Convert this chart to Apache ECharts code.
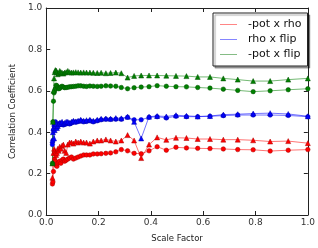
<!DOCTYPE html>
<html><head><meta charset="utf-8">
<script src="https://cdn.jsdelivr.net/npm/echarts@6/dist/echarts.min.js"></script>
<style>html,body{margin:0;padding:0;background:#fff}#c{width:318px;height:248px}</style>
</head><body><div id="c"></div>
<script>
var scaleFactors = [0.0237,0.0256,0.0277,0.0300,0.0324,0.0350,0.0379,0.0409,0.0443,0.0479,0.0517,0.0559,0.0605,0.0654,0.0707,0.0764,0.0826,0.0893,0.0966,0.104,0.113,0.122,0.132,0.143,0.154,0.167,0.180,0.195,0.210,0.228,0.246,0.266,0.287,0.311,0.336,0.363,0.393,0.424,0.459,0.496,0.536,0.579,0.626,0.677,0.732,0.791,0.856,0.925,1.0];
var potFlipTri = [0.25,0.45,0.6,0.66,0.69,0.70,0.698,0.69,0.68,0.685,0.696,0.69,0.687,0.683,0.688,0.69,0.696,0.69,0.688,0.689,0.69,0.689,0.688,0.689,0.688,0.688,0.687,0.686,0.687,0.685,0.686,0.688,0.685,0.664,0.672,0.674,0.674,0.674,0.673,0.672,0.671,0.667,0.667,0.66,0.654,0.647,0.647,0.654,0.66];
var potFlipCirc = [0.25,0.45,0.55,0.59,0.6,0.61,0.627,0.624,0.615,0.61,0.612,0.618,0.622,0.618,0.615,0.616,0.617,0.619,0.62,0.621,0.622,0.624,0.624,0.622,0.621,0.623,0.622,0.621,0.622,0.624,0.623,0.622,0.616,0.61,0.615,0.618,0.62,0.625,0.622,0.62,0.619,0.616,0.613,0.608,0.602,0.596,0.600,0.605,0.61];
var rhoFlipCirc = [0.34,0.36,0.41,0.43,0.44,0.45,0.43,0.42,0.44,0.435,0.44,0.445,0.44,0.435,0.44,0.44,0.445,0.44,0.445,0.45,0.448,0.452,0.455,0.45,0.452,0.455,0.45,0.455,0.46,0.463,0.462,0.463,0.463,0.472,0.46,0.46,0.472,0.475,0.469,0.477,0.475,0.475,0.477,0.48,0.483,0.483,0.483,0.481,0.475];
var rhoFlipTri = [0.36,0.40,0.42,0.37,0.41,0.43,0.44,0.42,0.43,0.44,0.445,0.44,0.45,0.44,0.445,0.45,0.45,0.445,0.45,0.455,0.452,0.455,0.46,0.455,0.458,0.46,0.455,0.46,0.465,0.466,0.465,0.468,0.467,0.475,0.45,0.37,0.475,0.478,0.476,0.482,0.479,0.476,0.478,0.485,0.487,0.49,0.492,0.488,0.477];
var potRhoCirc = [0.15,0.16,0.21,0.25,0.27,0.26,0.24,0.235,0.25,0.255,0.26,0.25,0.265,0.27,0.26,0.265,0.27,0.275,0.28,0.27,0.275,0.28,0.285,0.29,0.29,0.29,0.295,0.295,0.296,0.298,0.3,0.305,0.316,0.31,0.298,0.296,0.31,0.33,0.313,0.327,0.324,0.322,0.321,0.319,0.316,0.315,0.309,0.313,0.316];
var potRhoTri = [0.18,0.25,0.3,0.32,0.31,0.3,0.29,0.3,0.32,0.31,0.33,0.32,0.335,0.34,0.31,0.3,0.34,0.35,0.35,0.345,0.355,0.35,0.355,0.35,0.35,0.345,0.355,0.36,0.36,0.365,0.36,0.355,0.36,0.386,0.36,0.275,0.34,0.375,0.363,0.373,0.372,0.367,0.367,0.364,0.364,0.361,0.355,0.357,0.347];
var legendNames = ['-pot x rho','rho x flip','-pot x flip'];

function pairs(ys){ return scaleFactors.map(function(x,i){ return [x, ys[i]]; }); }
var FONT = 'DejaVu Sans';
function mk(name, ys, color, edge, sym){
  return {name:name, type:'line', data:pairs(ys), symbol:sym, symbolSize: sym==='circle'?4.5:5,
    showSymbol:true, animation:false,
    lineStyle:{color:color, width:1, opacity:0.55},
    itemStyle:{color:color, borderColor:edge, borderWidth:0.5}};
}
var chart = echarts.init(document.getElementById('c'), null, {renderer:'canvas'});
var axisCommon = {
  min:0, max:1, interval:0.2,
  axisLine:{show:true, onZero:false, lineStyle:{color:'#222', width:1}},
  axisTick:{show:true, inside:true, length:4, lineStyle:{color:'#222'}},
  splitLine:{show:false}
};
var LINEICON = 'path://M0,0L20,0L20,1L0,1Z';
chart.setOption({
  animation:false,
  textStyle:{fontFamily:FONT},
  grid:{left:30, right:8, top:8, bottom:24, containLabel:false},
  legend:{
    data:[
      {name:legendNames[0], icon:LINEICON, itemStyle:{color:'#ff7070', borderWidth:0}},
      {name:legendNames[1], icon:LINEICON, itemStyle:{color:'#7070ff', borderWidth:0}},
      {name:legendNames[2], icon:LINEICON, itemStyle:{color:'#70b070', borderWidth:0}}],
    orient:'vertical', left:213, top:13, padding:[5,6,5,7], itemGap:2,
    itemWidth:17, itemHeight:1,
    itemStyle:{borderWidth:0},
    backgroundColor:'#fff', borderColor:'#222', borderWidth:1,
    shadowColor:'rgba(0,0,0,0.35)', shadowOffsetX:2, shadowOffsetY:2, shadowBlur:1,
    textStyle:{fontSize:11, color:'#111', fontFamily:FONT, padding:[0,0,0,6], lineHeight:13},
    selectedMode:false
  },
  xAxis:[
    Object.assign({type:'value', position:'bottom', name:'Scale Factor', nameLocation:'middle', nameGap:19,
      nameTextStyle:{fontSize:8.5, color:'#222', fontFamily:FONT},
      axisLabel:{fontSize:9, color:'#333', margin:3, fontFamily:FONT, formatter:function(v){return v.toFixed(1);}}}, axisCommon),
    Object.assign({type:'value', position:'top', axisLabel:{show:false}}, axisCommon)
  ],
  yAxis:[
    Object.assign({type:'value', position:'left', name:'Correlation Coefficient', nameLocation:'middle', nameGap:23,
      nameTextStyle:{fontSize:8.5, color:'#222', fontFamily:FONT},
      axisLabel:{fontSize:9, color:'#333', margin:4, fontFamily:FONT, formatter:function(v){return v.toFixed(1);}}}, axisCommon),
    Object.assign({type:'value', position:'right', axisLabel:{show:false}}, axisCommon)
  ],
  series:[
    mk(legendNames[0], potRhoCirc, '#ff0000', '#aa0000', 'circle'),
    mk(legendNames[0], potRhoTri, '#ff0000', '#aa0000', 'triangle'),
    mk(legendNames[1], rhoFlipCirc, '#0000ff', '#0000aa', 'circle'),
    mk(legendNames[1], rhoFlipTri, '#0000ff', '#0000aa', 'triangle'),
    mk(legendNames[2], potFlipCirc, '#008000', '#005000', 'circle'),
    mk(legendNames[2], potFlipTri, '#008000', '#005000', 'triangle')
  ]
});
</script></body></html>
